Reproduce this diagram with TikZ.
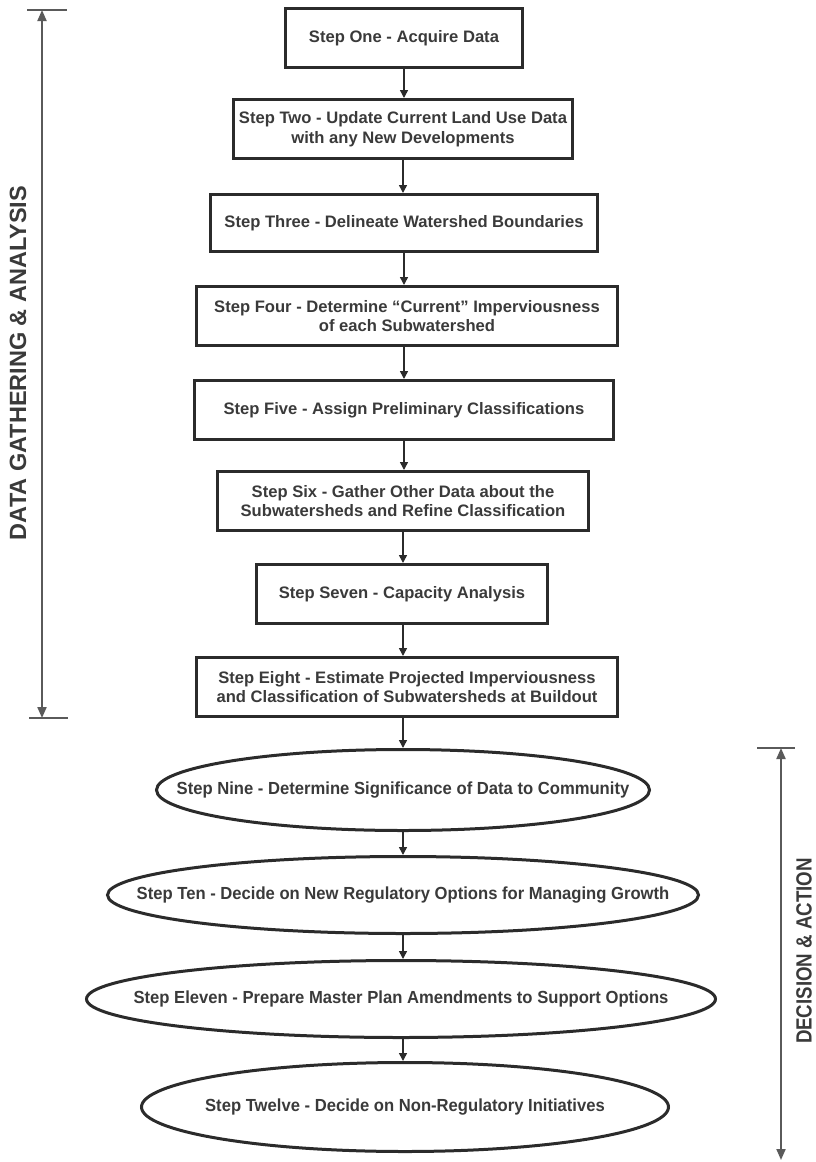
\documentclass[tikz,border=0pt]{standalone}
\usepackage{fontspec}
\setmainfont{Liberation Sans}
\newfontfamily\ovalfont[FakeStretch=0.95]{Liberation Sans}
\newfontfamily\narrowfont[FakeStretch=0.85]{Liberation Sans}
\usetikzlibrary{shapes.geometric,arrows.meta}
\definecolor{inkgray}{HTML}{2B2B2B}
\definecolor{textgray}{HTML}{3A3A3A}
\definecolor{rulegray}{HTML}{5A5A5A}

\begin{document}
\begin{tikzpicture}[x=1pt,y=-1pt,
    stepbox/.style={draw=inkgray,line width=3pt,text=textgray,align=center,
        font=\bfseries\fontsize{16.6}{19.5}\selectfont,inner sep=0pt,minimum height=59pt},
    stepoval/.style={ellipse,draw=inkgray,line width=3pt,text=textgray,inner sep=0pt,
        font=\ovalfont\bfseries\fontsize{17.5}{20}\selectfont},
    flow/.style={draw=inkgray,line width=1.5pt,-{Triangle[length=8pt,width=8pt]}},
    rangeline/.style={draw=rulegray,line width=2pt,
        {Triangle[length=11pt,width=9pt]}-{Triangle[length=11pt,width=9pt]}},
    capline/.style={draw=rulegray,line width=2pt},
    sidelabel/.style={text=textgray,rotate=90}]
    \useasboundingbox (0,0) rectangle (816,1162);

    \node[stepbox,minimum width=237pt] (one) at (404,38) {Step One - Acquire Data};
    \node[stepbox,minimum width=339pt] (two) at (403,129)
        {Step Two - Update Current Land Use Data\\with any New Developments};
    \node[stepbox,minimum width=387pt,minimum height=57pt] (three) at (404,223)
        {Step Three - Delineate Watershed Boundaries};
    \node[stepbox,minimum width=421pt] (four) at (407,316)
        {Step Four - Determine “Current” Imperviousness\\of each Subwatershed};
    \node[stepbox,minimum width=419pt] (five) at (404,410)
        {Step Five - Assign Preliminary Classifications};
    \node[stepbox,minimum width=371pt] (six) at (403,501)
        {Step Six - Gather Other Data about the\\Subwatersheds and Refine Classification};
    \node[stepbox,minimum width=291pt] (seven) at (402,594)
        {Step Seven - Capacity Analysis};
    \node[stepbox,minimum width=421pt] (eight) at (407,687)
        {Step Eight - Estimate Projected Imperviousness\\and Classification of Subwatersheds at Buildout};

    \node[stepoval,minimum width=493pt,minimum height=81pt] (nine) at (403,790)
        {\makebox[0pt]{Step Nine - Determine Significance of Data to Community}};
    \node[stepoval,minimum width=591pt,minimum height=77pt] (ten) at (403,895)
        {\makebox[0pt]{Step Ten - Decide on New Regulatory Options for Managing Growth}};
    \node[stepoval,minimum width=629pt,minimum height=77pt] (eleven) at (401,999)
        {\makebox[0pt]{Step Eleven - Prepare Master Plan Amendments to Support Options}};
    \node[stepoval,minimum width=527pt,minimum height=89pt] (twelve) at (405,1107)
        {\makebox[0pt]{Step Twelve - Decide on Non-Regulatory Initiatives}};

    \draw[flow] (one.south) -- (one.south |- two.north);
    \draw[flow] (two.south) -- (two.south |- three.north);
    \draw[flow] (three.south) -- (three.south |- four.north);
    \draw[flow] (three.south |- four.south) -- (three.south |- five.north);
    \draw[flow] (five.south) -- (five.south |- six.north);
    \draw[flow] (six.south) -- (six.south |- seven.north);
    \draw[flow] (six.south |- seven.south) -- (six.south |- eight.north);
    \draw[flow] (six.south |- eight.south) -- (six.south |- nine.north);
    \draw[flow] (nine.south) -- (nine.south |- ten.north);
    \draw[flow] (ten.south) -- (ten.south |- eleven.north);
    \draw[flow] (ten.south |- eleven.south) -- (ten.south |- twelve.north);

    \coordinate (gtop) at (42,10);
    \coordinate (gbot) at (42,718);
    \coordinate (gtopl) at (27,10);
    \coordinate (gtopr) at (67,10);
    \coordinate (gbotl) at (29,718);
    \coordinate (gbotr) at (68,718);
    \draw[capline] (gtopl) -- (gtopr);
    \draw[capline] (gbotl) -- (gbotr);
    \draw[rangeline] (gtop) -- (gbot);
    \node[sidelabel,font=\bfseries\fontsize{23.5}{28}\selectfont] (gather) at (18,363)
        {DATA GATHERING \& ANALYSIS};

    \coordinate (dtop) at (781,748);
    \coordinate (dbot) at (781,1160);
    \coordinate (dtopl) at (757,748);
    \coordinate (dtopr) at (795,748);
    \draw[capline] (dtopl) -- (dtopr);
    \draw[rangeline] (dtop) -- (dbot);
    \node[sidelabel,font=\narrowfont\bfseries\fontsize{22}{26}\selectfont] (decide) at (804,951)
        {DECISION \& ACTION};
\end{tikzpicture}
\end{document}
